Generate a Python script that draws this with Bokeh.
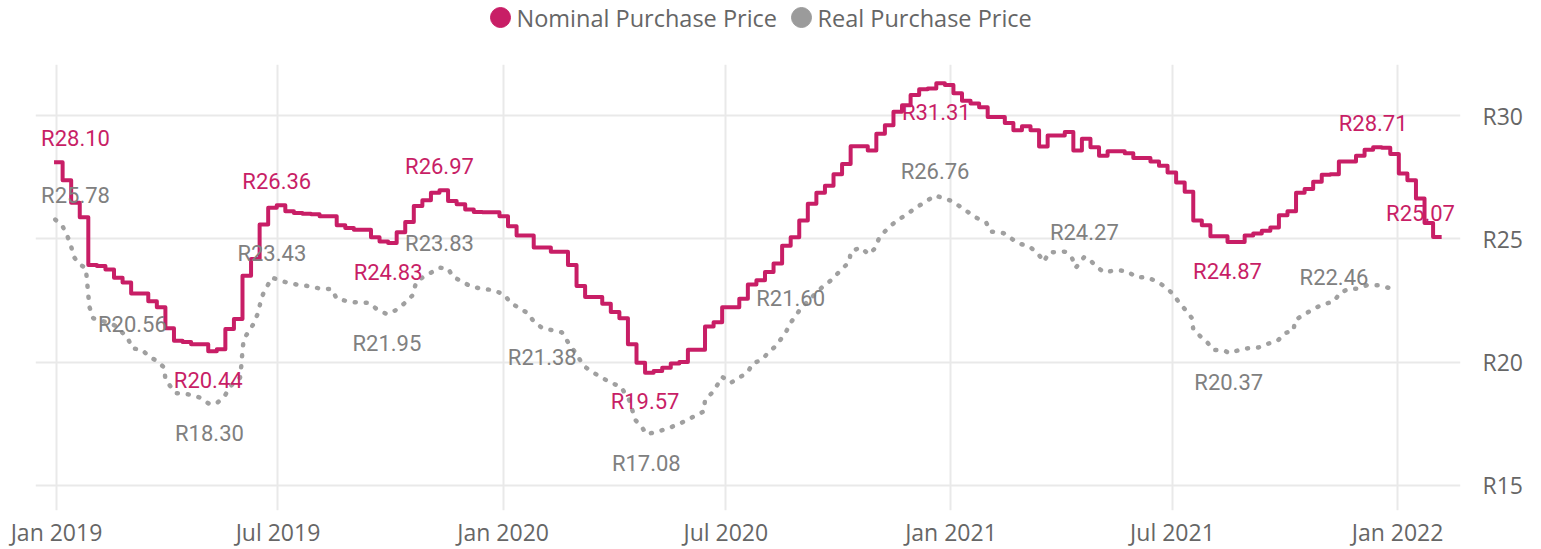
import pandas as pd
from bokeh.plotting import figure
from bokeh.models import (ColumnDataSource, Range1d, FixedTicker,
                          PrintfTickFormatter, DatetimeTickFormatter)
from bokeh.layouts import column
from bokeh.embed import file_html
from bokeh.resources import INLINE
from bokeh.core.properties import value

# ---------------------------------------------------------------- data
series_names = ["Nominal Purchase Price", "Real Purchase Price"]

# weekly nominal purchase price (step line), first week starting:
nominal_first_week = "2018-12-30"
nominal_values = [
    28.10, 27.38, 26.46, 25.88, 23.94, 23.90, 23.76, 23.42, 23.23, 22.78,
    22.78, 22.47, 22.23, 21.37, 20.87, 20.82, 20.73, 20.73, 20.44, 20.52,
    21.34, 21.75, 23.50, 24.18, 25.58, 26.26, 26.36, 26.12, 26.05, 26.02,
    26.00, 25.92, 25.92, 25.55, 25.44, 25.37, 25.37, 25.06, 24.89, 24.83,
    25.27, 25.68, 26.33, 26.56, 26.87, 26.97, 26.53, 26.40, 26.19, 26.09,
    26.08, 26.08, 25.92, 25.51, 25.14, 25.14, 24.65, 24.65, 24.48, 24.48,
    23.94, 23.09, 22.64, 22.64, 22.37, 22.03, 21.78, 20.73, 19.98, 19.57,
    19.64, 19.77, 19.95, 20.01, 20.50, 20.50, 21.45, 21.62, 22.23, 22.23,
    22.57, 23.15, 23.32, 23.66, 24.00, 24.72, 25.06, 25.74, 26.42, 26.87,
    27.15, 27.62, 28.03, 28.75, 28.75, 28.58, 29.26, 29.60, 30.15, 30.42,
    30.83, 31.06, 31.10, 31.31, 31.24, 30.90, 30.60, 30.49, 30.33, 29.94,
    29.94, 29.70, 29.40, 29.56, 29.40, 28.74, 29.19, 29.19, 29.33, 28.58,
    29.06, 28.71, 28.37, 28.55, 28.55, 28.47, 28.28, 28.28, 28.14, 27.96,
    27.69, 27.28, 26.91, 25.74, 25.55, 25.10, 25.10, 24.87, 24.87, 25.14,
    25.22, 25.33, 25.46, 25.96, 26.12, 26.87, 27.02, 27.31, 27.60, 27.62,
    28.14, 28.14, 28.37, 28.61, 28.71, 28.69, 28.44, 27.65, 27.38, 26.64,
    25.64, 25.07, 25.07,
]

# real purchase price: days after real_base_date and values
real_base_date = "2019-01-01"
real_days = [
    -1, 5, 9, 12, 14, 18, 24, 25, 26, 27, 30, 41, 48, 58, 62, 70, 75, 82, 88, 89,
    97, 110, 118, 125, 131, 137, 142, 150, 151, 152, 153, 161, 165, 167, 169, 176,
    186, 196, 205, 216, 225, 229, 238, 247, 255, 262, 270, 277, 284, 291, 294, 302,
    310, 313, 320, 324, 332, 338, 347, 357, 366, 371, 385, 390, 397, 413, 419, 424,
    431, 439, 453, 461, 468, 473, 479, 482, 491, 500, 510, 521, 529, 530, 537, 544,
    551, 558, 565, 569, 577, 581, 588, 596, 600, 608, 616, 626, 633, 641, 648, 649,
    657, 664, 669, 672, 677, 683, 688, 695, 702, 709, 718, 732, 739, 746, 752, 760,
    763, 774, 786, 795, 802, 807, 811, 824, 830, 833, 840, 846, 850, 856, 866, 875,
    882, 892, 900, 907, 913, 917, 923, 928, 929, 935, 941, 945, 955, 958, 971, 982,
    989, 998, 1004, 1011, 1012, 1019, 1027, 1034, 1044, 1049, 1056, 1063, 1071, 1080,
    1089,
]
real_values = [
    25.78, 25.51, 25.10, 24.69, 24.28, 24.01, 23.80, 23.26, 22.71, 22.23, 21.78, 21.62,
    21.48, 21.00, 20.56, 20.50, 20.25, 20.05, 19.78, 19.30,
    18.75, 18.68, 18.55, 18.30, 18.34, 18.59, 19.02, 19.37, 19.84, 20.46, 20.93, 21.55,
    22.03, 22.51, 22.78, 23.43,
    23.26, 23.15, 23.09, 22.98, 22.96, 22.57, 22.47, 22.41, 22.41, 22.14, 21.95, 22.10,
    22.37, 22.71, 23.26, 23.53,
    23.73, 23.83, 23.80, 23.46, 23.26, 23.08, 22.98, 22.92, 22.74, 22.41, 21.99, 21.65,
    21.38, 21.21, 20.73, 20.39,
    19.84, 19.57, 19.16, 19.02, 18.47, 17.66, 17.32, 17.08, 17.18, 17.32, 17.52, 17.80,
    18.00, 18.47, 18.82, 19.41,
    19.16, 19.37, 19.60, 19.95, 20.11, 20.36, 20.66, 21.21, 21.60, 22.16, 22.57, 23.05,
    23.32, 23.73, 24.07, 24.48,
    24.65, 24.37, 24.62, 25.00, 25.30, 25.58, 25.78, 25.99, 26.26, 26.46, 26.76, 26.53,
    26.29, 26.05, 25.85, 25.64,
    25.30, 25.23, 24.82, 24.69, 24.41, 24.07, 24.45, 24.48, 24.21, 23.83, 24.27, 24.07,
    23.87, 23.64, 23.73, 23.69,
    23.46, 23.42, 23.26, 23.01, 22.74, 22.44, 22.10, 21.78, 21.32, 21.04, 20.77, 20.50,
    20.46, 20.37, 20.55, 20.59,
    20.73, 20.87, 21.18, 21.28, 21.69, 21.92, 22.14, 22.33, 22.46, 22.82, 22.96, 22.98,
    23.12, 23.12,
    23.01,
]

# data labels: which points are labelled, and on which side of the line
nominal_label_weeks = [0, 18, 26, 39, 45, 69, 103, 137, 154, 161]
nominal_label_side = ["above", "below", "above", "below", "above", "below",
                      "below", "below", "above", "above"]
real_label_days = [-1, 62, 125, 176, 270, 313, 397, 482, 600, 718, 840, 958, 1044]
real_label_side = ["above", "above", "below", "above", "below", "above", "below",
                   "below", "above", "above", "above", "below", "above"]

x_tick_dates = ["2019-01-01", "2019-07-01", "2020-01-01", "2020-07-01",
                "2021-01-01", "2021-07-01", "2022-01-01"]
y_ticks = [15, 20, 25, 30]

# ---------------------------------------------------------------- style
PINK = "#C81E66"
GREY_LINE = "#A0A0A0"
GREY_TEXT = "#808080"
GREY_DOT = "#9B9B9B"
AXIS_TEXT = "#666666"
GRID = "#E9E9E9"
UI_FONT = "Open Sans"
LABEL_FONT = "Roboto"

FRAME_L, FRAME_W, FRAME_H = 35, 1425, 446
BORDER_R, BORDER_T, BORDER_B = 73, 16, 31
LEG_H = 48

day = pd.Timedelta(days=1)
x_start = pd.Timestamp("2019-01-01") - 17.16 * day
x_end = pd.Timestamp("2019-01-01") + 1147.4 * day
y_start, y_end = 13.986, 32.068

nominal_dates = [pd.Timestamp(nominal_first_week) + 7 * k * day
                 for k in range(len(nominal_values))]
real_dates = [pd.Timestamp(real_base_date) + d * day for d in real_days]


def x_px(t):
    return FRAME_L + (t - x_start) / (x_end - x_start) * FRAME_W


def clamp_offset(t, half=40):
    px = x_px(t)
    return max(0.0, FRAME_L + half - px) + min(0.0, FRAME_L + FRAME_W - half - px)


def side_offset(s):
    return -24 if s == "above" else 29


nom_lab = dict(
    x=[nominal_dates[k] for k in nominal_label_weeks],
    y=[nominal_values[k] for k in nominal_label_weeks],
    text=["R%.2f" % nominal_values[k] for k in nominal_label_weeks],
    xoff=[clamp_offset(nominal_dates[k]) for k in nominal_label_weeks],
    yoff=[side_offset(s) for s in nominal_label_side],
)
real_idx = [real_days.index(d) for d in real_label_days]
real_lab = dict(
    x=[real_dates[i] for i in real_idx],
    y=[real_values[i] for i in real_idx],
    text=["R%.2f" % real_values[i] for i in real_idx],
    xoff=[clamp_offset(real_dates[i]) for i in real_idx],
    yoff=[side_offset(s) for s in real_label_side],
)

# ---------------------------------------------------------------- main chart
p = figure(x_axis_type="datetime", y_axis_location="right",
           frame_width=FRAME_W, frame_height=FRAME_H,
           min_border_left=FRAME_L, min_border_right=BORDER_R,
           min_border_top=BORDER_T, min_border_bottom=BORDER_B,
           x_range=Range1d(x_start, x_end), y_range=Range1d(y_start, y_end),
           output_backend="svg", toolbar_location=None)
p.outline_line_color = None
p.background_fill_color = "white"
p.border_fill_color = "white"

p.line(real_dates, real_values, line_color=GREY_LINE, line_width=4.5,
       line_dash="1 10", line_cap="round")
p.step(nominal_dates, nominal_values, mode="after", line_color=PINK,
       line_width=4, line_join="round")

p.text(x="x", y="y", text="text", source=ColumnDataSource(real_lab),
       x_offset="xoff", y_offset="yoff", text_align="center",
       text_baseline="middle", text_font=value(LABEL_FONT),
       text_font_size="22px", text_color=GREY_TEXT)
p.text(x="x", y="y", text="text", source=ColumnDataSource(nom_lab),
       x_offset="xoff", y_offset="yoff", text_align="center",
       text_baseline="middle", text_font=value(LABEL_FONT),
       text_font_size="22px", text_color=PINK)

xt = FixedTicker(ticks=[pd.Timestamp(d).value // 10**6 for d in x_tick_dates])
yt = FixedTicker(ticks=y_ticks)
xa = p.xaxis[0]
ya = p.yaxis[0]
xa.ticker = xt
ya.ticker = yt
fmt = "%b %Y"
xa.formatter = DatetimeTickFormatter(
    microseconds=fmt, milliseconds=fmt, seconds=fmt, minsec=fmt, minutes=fmt,
    hourmin=fmt, hours=fmt, days=fmt, months=fmt, years=fmt)
ya.formatter = PrintfTickFormatter(format="R%d")
for ax in (xa, ya):
    ax.axis_line_color = None
    ax.major_tick_line_color = None
    ax.minor_tick_line_color = None
    ax.major_tick_in = 0
    ax.major_tick_out = 0
    ax.minor_tick_in = 0
    ax.minor_tick_out = 0
    ax.major_label_text_font = UI_FONT
    ax.major_label_text_font_size = "23px"
    ax.major_label_text_color = AXIS_TEXT
xa.major_label_standoff = 5
ya.major_label_standoff = 22

p.xgrid.ticker = xt
p.ygrid.ticker = yt
p.grid.grid_line_color = GRID
p.grid.grid_line_width = 2

# ---------------------------------------------------------------- legend strip
# same frame geometry as the chart, so its data units are page pixels
leg = figure(frame_width=FRAME_W, frame_height=LEG_H,
             min_border_left=FRAME_L, min_border_right=BORDER_R,
             min_border_top=0, min_border_bottom=0,
             x_range=Range1d(FRAME_L, FRAME_L + FRAME_W), y_range=Range1d(0, LEG_H),
             x_axis_location=None, y_axis_location=None,
             output_backend="svg", toolbar_location=None)
leg.outline_line_color = None
leg.grid.visible = False
leg_x = [500, 801]
leg_y = [LEG_H - 17, LEG_H - 17]
leg_colors = [PINK, GREY_DOT]
leg.scatter(leg_x, leg_y, size=20, marker="circle", fill_color=leg_colors,
            line_color=leg_colors)
leg.text(x=[x + 16 for x in leg_x], y=leg_y, text=series_names,
         text_align="left", text_baseline="middle", text_font=value(UI_FONT),
         text_font_size="23.5px", text_color=AXIS_TEXT)

layout = column(leg, p, spacing=0)
open("out.html", "w").write(file_html(layout, INLINE))
